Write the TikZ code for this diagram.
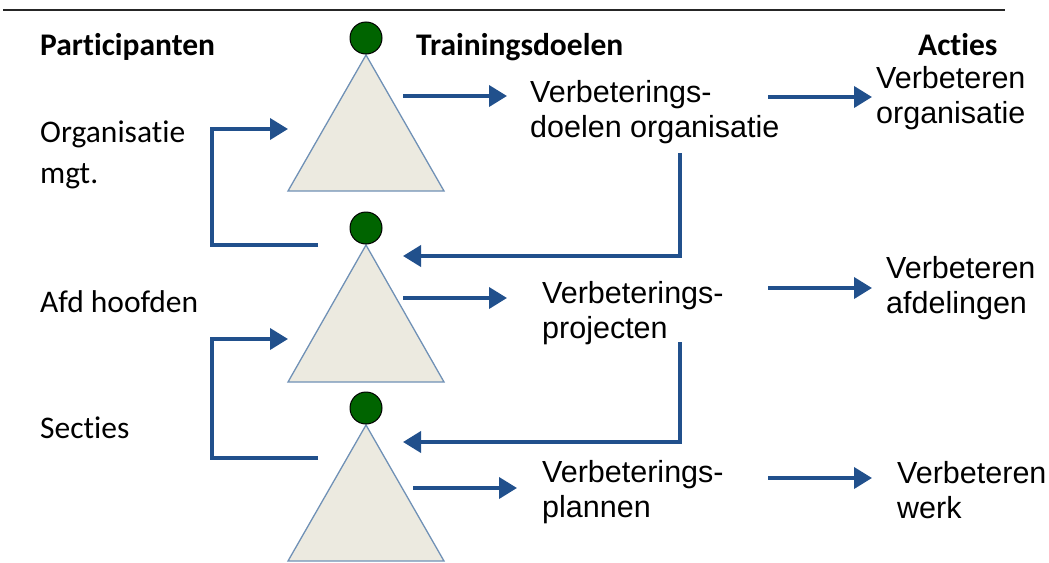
\documentclass[tikz,border=0pt]{standalone}
\usepackage{fontspec}
\setmainfont{Liberation Sans}
\newfontfamily\calib[Ligatures=NoCommon]{Carlito}
\usetikzlibrary{arrows.meta}
\definecolor{flowblue}{RGB}{33,80,140}
\definecolor{trifill}{RGB}{236,234,224}
\definecolor{triline}{RGB}{112,145,182}
\definecolor{topgreen}{RGB}{0,100,0}
\tikzstyle{levels}=[x=1pt, y=-1pt, font=\fontsize{30.5}{34.5}\selectfont]
\tikzstyle{head}=[inner sep=0pt, anchor=base west, font=\calib\bfseries\fontsize{31.5}{38}\selectfont]
\tikzstyle{who}=[inner sep=0pt, anchor=base west, align=left, font=\calib\fontsize{31.5}{41}\selectfont]
\tikzstyle{txt}=[inner sep=0pt, anchor=base west, align=left]
\tikzstyle{tri}=[fill=trifill, draw=triline, line width=1.3pt, line join=miter]
\tikzstyle{top}=[circle, draw=black, line width=1pt, fill=topgreen, minimum size=32pt, inner sep=0pt]
\tikzstyle{flow}=[draw=flowblue, line width=3.8pt, -{Triangle[length=18pt,width=21pt]}]
\tikzstyle{back}=[flow, rounded corners=0pt]
\tikzstyle{rule}=[draw=black!85, line width=2.6pt]

\begin{document}
\begin{tikzpicture}[levels]
	\useasboundingbox (0,0) rectangle (1049,562);
	\draw[rule] (3,10) -- (1005,10);
	%% kopjes
	\draw (40,55) node[head] (hPart) {Participanten};
	\draw (416,55) node[head] (hDoel) {Trainingsdoelen};
	\draw (918,55) node[head] (hAct) {Acties};
	%% participanten (base = laatste regel)
	\draw (40,183) node[who] (pOrg) {Organisatie\\mgt.};
	\draw (40,312) node[who] (pAfd) {Afd hoofden};
	\draw (40,438) node[who] (pSec) {Secties};
	%%%%%%
	\draw[tri] (366,55) -- (444,191) -- (288,191) -- cycle;
	\draw (366,38) node[top] (c1) {};
	\draw[tri] (366,245) -- (444,382) -- (288,382) -- cycle;
	\draw (366,228) node[top] (c2) {};
	\draw[tri] (366,425) -- (444,561) -- (288,561) -- cycle;
	\draw (366,408) node[top] (c3) {};
	%%%%%%
	\draw (530,137) node[txt] (d1) {Verbeterings-\\doelen organisatie};
	\draw (542,338) node[txt] (d2) {Verbeterings-\\projecten};
	\draw (542,517) node[txt] (d3) {Verbeterings-\\plannen};
	%%
	\draw (876,123) node[txt] (a1) {Verbeteren\\organisatie};
	\draw (886,313) node[txt] (a2) {Verbeteren\\afdelingen};
	\draw (897,518) node[txt] (a3) {Verbeteren\\werk};
	%%%%%%
	\coordinate (t1) at (403,96);  \coordinate (g1) at (507,96);
	\coordinate (t2) at (403,298); \coordinate (g2) at (507,298);
	\coordinate (t3) at (413,488); \coordinate (g3) at (517,488);
	\coordinate (u1) at (768,97);  \coordinate (v1) at (872,97);
	\coordinate (u2) at (768,288); \coordinate (v2) at (872,288);
	\coordinate (u3) at (768,478); \coordinate (v3) at (872,478);
	\draw[flow] (t1) -- (g1);
	\draw[flow] (t2) -- (g2);
	\draw[flow] (t3) -- (g3);
	\draw[flow] (u1) -- (v1);
	\draw[flow] (u2) -- (v2);
	\draw[flow] (u3) -- (v3);
	%% terugkoppeling
	\coordinate (r1) at (680,153); \coordinate (e1) at (403,256);
	\coordinate (r2) at (680,342); \coordinate (e2) at (403,442);
	\draw[back] (r1) |- (e1);
	\draw[back] (r2) |- (e2);
	%%
	\coordinate (l1) at (318,245); \coordinate (k1) at (288,129);
	\coordinate (l2) at (318,458); \coordinate (k2) at (288,339);
	\draw[back] (l1) -- (212,245) |- (k1);
	\draw[back] (l2) -- (212,458) |- (k2);
\end{tikzpicture}
\end{document}
